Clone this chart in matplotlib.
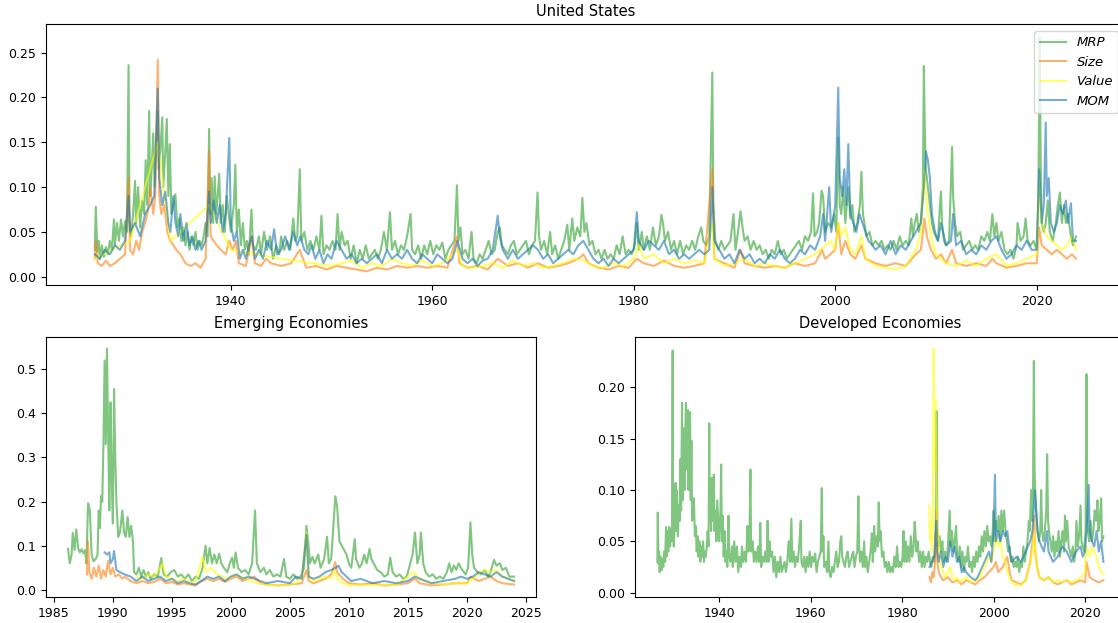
import matplotlib
matplotlib.use("Agg")
import matplotlib.pyplot as plt
import numpy as np

plt.rcParams["font.size"] = 9

# ---- data: (year, volatility) ----
us_mrp = [(1926.5, .030), (1926.6, .078), (1926.75, .028), (1926.9, .040), (1927.0, .020), (1927.2, .035),
          (1927.4, .022), (1927.6, .033), (1927.8, .025), (1928.0, .040), (1928.2, .030), (1928.4, .064),
          (1928.5, .035), (1928.7, .060), (1928.9, .040), (1929.1, .064), (1929.3, .045), (1929.5, .062),
          (1929.7, .050), (1929.85, .236), (1929.95, .060), (1930.1, .045), (1930.3, .070), (1930.5, .107),
          (1930.6, .060), (1930.8, .100), (1931.0, .055), (1931.2, .085), (1931.4, .070), (1931.55, .130),
          (1931.7, .080), (1931.9, .185), (1932.0, .090), (1932.15, .120), (1932.3, .160), (1932.45, .100),
          (1932.6, .150), (1932.75, .185), (1932.85, .120), (1933.0, .140), (1933.2, .178), (1933.3, .100),
          (1933.5, .140), (1933.65, .176), (1933.8, .090), (1933.95, .148), (1934.1, .070), (1934.3, .080),
          (1934.5, .092), (1934.7, .055), (1934.9, .065), (1935.1, .040), (1935.3, .055), (1935.5, .035),
          (1935.7, .050), (1935.9, .030), (1936.1, .045), (1936.3, .035), (1936.5, .050), (1936.7, .030),
          (1936.9, .040), (1937.1, .035), (1937.3, .045), (1937.5, .060), (1937.7, .045), (1937.85, .165),
          (1937.95, .070), (1938.1, .110), (1938.25, .060), (1938.4, .112), (1938.55, .070), (1938.7, .090),
          (1938.85, .115), (1939.0, .060), (1939.2, .080), (1939.4, .050), (1939.6, .090), (1939.8, .070),
          (1940.0, .050), (1940.3, .080), (1940.45, .125), (1940.6, .050), (1940.8, .075), (1941.0, .035),
          (1941.2, .060), (1941.4, .030), (1941.6, .040), (1941.8, .025), (1942.05, .075), (1942.2, .035),
          (1942.5, .030), (1942.8, .045), (1943.0, .025), (1943.3, .050), (1943.6, .030), (1943.9, .045),
          (1944.2, .020), (1944.5, .035), (1944.8, .025), (1945.0, .045), (1945.3, .030), (1945.6, .040),
          (1945.9, .030), (1946.2, .065), (1946.4, .040), (1946.6, .045), (1946.85, .120), (1947.0, .040),
          (1947.3, .050), (1947.6, .030), (1947.9, .040), (1948.2, .030), (1948.5, .045), (1948.8, .030),
          (1949.0, .068), (1949.2, .025), (1949.5, .035), (1949.8, .030), (1950.1, .040), (1950.4, .030),
          (1950.6, .070), (1950.8, .030), (1951.0, .050), (1951.3, .035), (1951.6, .040), (1951.9, .020),
          (1952.2, .035), (1952.5, .015), (1952.8, .030), (1953.1, .020), (1953.4, .035), (1953.7, .020),
          (1954.0, .025), (1954.3, .030), (1954.6, .020), (1954.9, .030), (1955.2, .050), (1955.5, .030),
          (1955.8, .072), (1956.0, .030), (1956.3, .040), (1956.6, .025), (1956.9, .035), (1957.2, .030),
          (1957.5, .045), (1957.85, .070), (1958.0, .030), (1958.3, .025), (1958.6, .035), (1958.9, .020),
          (1959.2, .035), (1959.5, .025), (1959.8, .040), (1960.1, .025), (1960.4, .035), (1960.7, .030),
          (1961.0, .038), (1961.3, .020), (1961.6, .030), (1961.9, .035), (1962.2, .040), (1962.45, .102),
          (1962.6, .040), (1962.8, .055), (1963.0, .025), (1963.3, .030), (1963.6, .020), (1963.9, .050),
          (1964.1, .020), (1964.4, .015), (1964.7, .025), (1965.0, .020), (1965.3, .030), (1965.6, .040),
          (1965.9, .025), (1966.2, .030), (1966.5, .050), (1966.7, .055), (1966.9, .035), (1967.2, .030),
          (1967.5, .025), (1967.8, .035), (1968.1, .040), (1968.4, .025), (1968.7, .030), (1969.0, .035),
          (1969.3, .040), (1969.6, .025), (1969.9, .035), (1970.2, .040), (1970.45, .094), (1970.6, .045),
          (1970.8, .030), (1971.1, .040), (1971.4, .025), (1971.7, .050), (1971.9, .025), (1972.2, .035),
          (1972.5, .020), (1972.8, .030), (1973.1, .040), (1973.4, .058), (1973.6, .030), (1973.9, .065),
          (1974.1, .040), (1974.4, .055), (1974.7, .045), (1974.9, .088), (1975.1, .050), (1975.3, .060),
          (1975.6, .035), (1975.9, .040), (1976.2, .025), (1976.5, .030), (1976.8, .020), (1977.1, .030),
          (1977.4, .020), (1977.7, .025), (1978.0, .020), (1978.3, .035), (1978.6, .025), (1978.9, .045),
          (1979.2, .025), (1979.5, .030), (1979.8, .025), (1980.1, .035), (1980.3, .060), (1980.5, .030),
          (1980.8, .050), (1981.0, .030), (1981.3, .045), (1981.6, .030), (1981.9, .055), (1982.2, .035),
          (1982.5, .045), (1982.75, .069), (1982.9, .060), (1983.1, .040), (1983.4, .050), (1983.7, .030),
          (1984.0, .040), (1984.3, .025), (1984.6, .040), (1984.9, .025), (1985.2, .035), (1985.5, .030),
          (1985.8, .040), (1986.1, .030), (1986.4, .045), (1986.7, .055), (1986.9, .040), (1987.2, .035),
          (1987.5, .045), (1987.8, .228), (1987.9, .080), (1988.1, .040), (1988.4, .030), (1988.7, .040),
          (1989.0, .030), (1989.3, .035), (1989.6, .040), (1989.9, .070), (1990.1, .030), (1990.35, .050),
          (1990.6, .073), (1990.8, .055), (1991.0, .040), (1991.3, .045), (1991.6, .030), (1991.9, .040),
          (1992.2, .030), (1992.5, .035), (1992.8, .025), (1993.1, .030), (1993.4, .020), (1993.7, .030),
          (1994.0, .025), (1994.3, .040), (1994.6, .025), (1994.9, .030), (1995.2, .020), (1995.5, .025),
          (1995.8, .030), (1996.1, .035), (1996.4, .040), (1996.7, .030), (1997.0, .045), (1997.3, .040),
          (1997.6, .050), (1997.8, .093), (1997.95, .045), (1998.2, .050), (1998.4, .060), (1998.65, .096),
          (1998.8, .090), (1999.0, .050), (1999.3, .060), (1999.6, .055), (1999.9, .070), (2000.1, .050),
          (2000.3, .155), (2000.45, .080), (2000.6, .070), (2000.8, .100), (2001.0, .060), (2001.3, .100),
          (2001.5, .065), (2001.7, .080), (2001.9, .050), (2002.2, .060), (2002.45, .080), (2002.6, .117),
          (2002.75, .070), (2002.9, .060), (2003.1, .045), (2003.4, .050), (2003.7, .035), (2004.0, .040),
          (2004.3, .035), (2004.6, .040), (2004.9, .030), (2005.2, .035), (2005.5, .030), (2005.8, .040),
          (2006.1, .030), (2006.4, .045), (2006.7, .035), (2007.0, .040), (2007.3, .035), (2007.55, .065),
          (2007.7, .045), (2007.9, .060), (2008.1, .070), (2008.3, .050), (2008.5, .060), (2008.7, .100),
          (2008.8, .235), (2008.9, .160), (2009.0, .120), (2009.2, .100), (2009.4, .080), (2009.6, .060),
          (2009.8, .050), (2010.0, .045), (2010.2, .040), (2010.4, .080), (2010.5, .095), (2010.6, .060),
          (2010.8, .040), (2011.0, .035), (2011.3, .040), (2011.6, .145), (2011.7, .090), (2011.9, .060),
          (2012.1, .045), (2012.4, .050), (2012.7, .030), (2013.0, .035), (2013.3, .040), (2013.6, .030),
          (2013.9, .035), (2014.2, .030), (2014.5, .045), (2014.8, .040), (2015.1, .050), (2015.35, .040),
          (2015.6, .070), (2015.8, .045), (2016.0, .060), (2016.2, .040), (2016.5, .050), (2016.8, .030),
          (2017.1, .025), (2017.4, .030), (2017.7, .020), (2018.0, .035), (2018.1, .060), (2018.4, .040),
          (2018.7, .045), (2018.9, .065), (2019.1, .040), (2019.4, .035), (2019.7, .040), (2020.0, .030),
          (2020.15, .080), (2020.3, .268), (2020.4, .125), (2020.5, .060), (2020.7, .050), (2020.9, .060),
          (2021.1, .085), (2021.3, .050), (2021.6, .040), (2021.9, .060), (2022.1, .080), (2022.3, .094),
          (2022.5, .060), (2022.7, .080), (2022.9, .060), (2023.1, .070), (2023.4, .045), (2023.6, .035),
          (2023.9, .045)]

us_size = [(1926.5, .020), (1926.6, .040), (1926.8, .015), (1927.2, .012), (1927.6, .018), (1928.0, .012),
           (1928.5, .015), (1929.0, .020), (1929.5, .025), (1929.85, .110), (1930.0, .030), (1930.3, .025),
           (1930.6, .040), (1930.9, .030), (1931.2, .050), (1931.5, .060), (1931.8, .075), (1932.0, .100),
           (1932.3, .070), (1932.5, .090), (1932.75, .242), (1932.9, .090), (1933.1, .070), (1933.4, .080),
           (1933.7, .050), (1934.0, .040), (1934.3, .035), (1934.6, .030), (1935.0, .025), (1935.5, .015),
           (1936.0, .012), (1936.5, .015), (1937.0, .010), (1937.5, .020), (1937.85, .140), (1938.0, .045),
           (1938.3, .040), (1938.6, .035), (1939.0, .030), (1939.5, .025), (1939.85, .040), (1940.2, .030),
           (1940.5, .040), (1940.8, .015), (1941.5, .012), (1942.05, .045), (1942.4, .015), (1943.0, .012),
           (1943.5, .020), (1944.0, .015), (1945.0, .012), (1946.0, .015), (1946.85, .030), (1947.5, .010),
           (1948.5, .012), (1949.5, .008), (1950.5, .012), (1951.5, .010), (1952.5, .008), (1953.5, .006),
           (1954.5, .010), (1955.5, .008), (1956.5, .012), (1957.5, .010), (1958.5, .012), (1959.5, .010),
           (1960.5, .012), (1961.5, .010), (1962.45, .045), (1962.7, .015), (1963.5, .010), (1964.5, .012),
           (1965.5, .008), (1966.5, .020), (1967.5, .012), (1968.5, .015), (1969.5, .010), (1970.5, .015),
           (1971.5, .010), (1972.5, .012), (1973.5, .015), (1974.5, .020), (1975.0, .025), (1975.5, .015),
           (1976.5, .010), (1977.5, .008), (1978.5, .012), (1979.5, .010), (1980.3, .020), (1981.0, .015),
           (1982.0, .012), (1983.0, .018), (1984.0, .012), (1985.0, .010), (1986.0, .012), (1987.0, .015),
           (1987.8, .120), (1988.0, .020), (1989.0, .015), (1990.0, .010), (1990.6, .030), (1991.0, .015),
           (1992.0, .012), (1993.0, .010), (1994.0, .012), (1995.0, .010), (1996.0, .015), (1997.0, .012),
           (1998.0, .015), (1998.7, .030), (1999.0, .020), (1999.5, .025), (2000.0, .030), (2000.3, .060),
           (2000.6, .025), (2001.0, .040), (2001.5, .025), (2002.0, .020), (2002.6, .035), (2003.0, .020),
           (2004.0, .015), (2005.0, .012), (2006.0, .015), (2007.0, .012), (2007.6, .020), (2008.0, .025),
           (2008.5, .030), (2008.85, .065), (2009.1, .045), (2009.5, .030), (2010.0, .020), (2010.5, .025),
           (2011.0, .015), (2011.6, .030), (2012.0, .015), (2013.0, .012), (2014.0, .015), (2015.0, .012),
           (2015.6, .020), (2016.0, .015), (2017.0, .010), (2018.0, .012), (2019.0, .015), (2020.0, .015),
           (2020.25, .055), (2020.5, .035), (2021.0, .030), (2021.5, .025), (2022.0, .030), (2022.5, .025),
           (2023.0, .020), (2023.5, .025), (2023.9, .020)]

us_value = [(1926.5, .020), (1930.0, .040), (1932.75, .150), (1934.0, .040), (1937.85, .080), (1940.0, .030),
            (1945.0, .020), (1950.0, .012), (1952.0, .018), (1953.0, .010), (1954.0, .015), (1955.0, .012),
            (1956.0, .020), (1957.0, .015), (1958.0, .012), (1959.0, .018), (1960.0, .012), (1961.0, .015),
            (1962.5, .030), (1963.0, .012), (1964.0, .010), (1965.0, .012), (1966.0, .015), (1967.0, .010),
            (1968.0, .018), (1969.0, .012), (1970.0, .015), (1971.0, .010), (1972.0, .012), (1973.0, .015),
            (1974.0, .020), (1975.0, .018), (1976.0, .012), (1977.0, .010), (1978.0, .015), (1979.0, .012),
            (1980.0, .020), (1980.5, .035), (1981.0, .020), (1982.0, .025), (1983.0, .015), (1984.0, .020),
            (1985.0, .015), (1986.0, .018), (1987.0, .015), (1987.8, .060), (1988.0, .020), (1989.0, .012),
            (1990.0, .015), (1991.0, .020), (1992.0, .012), (1993.0, .015), (1994.0, .012), (1995.0, .010),
            (1996.0, .015), (1997.0, .020), (1998.0, .025), (1999.0, .035), (1999.5, .040), (2000.0, .030),
            (2000.3, .060), (2000.6, .045), (2001.0, .055), (2001.5, .030), (2002.0, .025), (2002.6, .045),
            (2003.0, .020), (2004.0, .012), (2005.0, .010), (2006.0, .008), (2007.0, .012), (2008.0, .030),
            (2008.5, .050), (2008.85, .120), (2009.0, .090), (2009.3, .060), (2009.6, .040), (2010.0, .025),
            (2011.0, .015), (2012.0, .012), (2013.0, .018), (2014.0, .012), (2015.0, .020), (2016.0, .025),
            (2017.0, .012), (2018.0, .015), (2019.0, .020), (2020.0, .025), (2020.25, .100), (2020.5, .060),
            (2021.0, .045), (2021.5, .040), (2022.0, .035), (2022.5, .030), (2023.0, .035), (2023.5, .045),
            (2023.9, .030)]

us_mom = [(1926.5, .025), (1927.0, .020), (1927.5, .030), (1928.0, .025), (1928.5, .035), (1929.0, .030),
          (1929.5, .040), (1929.85, .090), (1930.0, .050), (1930.5, .060), (1931.0, .045), (1931.5, .070),
          (1932.0, .080), (1932.4, .090), (1932.75, .210), (1932.9, .110), (1933.2, .080), (1933.5, .095),
          (1933.8, .060), (1934.0, .050), (1934.3, .090), (1934.5, .060), (1934.8, .045), (1935.0, .070),
          (1935.3, .040), (1935.6, .060), (1935.9, .035), (1936.2, .045), (1936.5, .030), (1936.8, .040),
          (1937.1, .030), (1937.5, .040), (1937.85, .095), (1938.0, .060), (1938.3, .085), (1938.6, .060),
          (1938.9, .080), (1939.2, .050), (1939.5, .070), (1939.85, .155), (1940.0, .060), (1940.3, .040),
          (1940.6, .050), (1940.9, .020), (1941.2, .030), (1941.5, .020), (1941.8, .035), (1942.1, .045),
          (1942.4, .020), (1942.8, .030), (1943.2, .020), (1943.6, .040), (1944.0, .030), (1944.3, .053),
          (1944.6, .025), (1945.0, .030), (1945.4, .045), (1945.8, .030), (1946.2, .050), (1946.6, .035),
          (1946.9, .045), (1947.3, .030), (1947.7, .025), (1948.0, .035), (1948.4, .020), (1948.8, .030),
          (1949.2, .015), (1949.6, .025), (1950.0, .020), (1950.5, .040), (1951.0, .030), (1951.5, .020),
          (1952.0, .025), (1952.5, .015), (1953.0, .020), (1953.5, .015), (1954.0, .020), (1954.5, .025),
          (1955.0, .015), (1955.5, .030), (1956.0, .020), (1956.5, .025), (1957.0, .020), (1957.5, .030),
          (1958.0, .020), (1958.5, .015), (1959.0, .025), (1959.5, .020), (1960.0, .015), (1960.5, .025),
          (1961.0, .020), (1961.5, .015), (1962.0, .020), (1962.5, .040), (1963.0, .020), (1963.5, .015),
          (1964.0, .020), (1964.5, .012), (1965.0, .018), (1965.5, .020), (1966.0, .030), (1966.5, .068),
          (1966.7, .045), (1967.0, .030), (1967.5, .020), (1968.0, .030), (1968.5, .020), (1969.0, .025),
          (1969.5, .030), (1970.0, .035), (1970.5, .030), (1971.0, .020), (1971.5, .025), (1972.0, .015),
          (1972.5, .020), (1973.0, .025), (1973.5, .030), (1974.0, .025), (1974.5, .035), (1975.0, .040),
          (1975.5, .030), (1976.0, .020), (1976.5, .015), (1977.0, .020), (1977.5, .012), (1978.0, .020),
          (1978.5, .015), (1979.0, .020), (1979.5, .025), (1980.0, .030), (1980.3, .072), (1980.5, .040),
          (1981.0, .030), (1981.5, .040), (1982.0, .035), (1982.5, .030), (1983.0, .040), (1983.5, .025),
          (1984.0, .030), (1984.5, .020), (1985.0, .025), (1985.5, .020), (1986.0, .025), (1986.5, .030),
          (1987.0, .025), (1987.5, .030), (1987.8, .100), (1988.0, .040), (1988.5, .030), (1989.0, .020),
          (1989.5, .025), (1990.0, .015), (1990.5, .030), (1991.0, .020), (1991.5, .025), (1992.0, .015),
          (1992.5, .020), (1993.0, .015), (1993.5, .025), (1994.0, .020), (1994.5, .030), (1995.0, .020),
          (1995.5, .015), (1996.0, .020), (1996.5, .030), (1997.0, .025), (1997.5, .035), (1998.0, .030),
          (1998.5, .045), (1998.8, .070), (1999.0, .040), (1999.4, .100), (1999.6, .050), (2000.0, .080),
          (2000.3, .211), (2000.45, .110), (2000.7, .090), (2000.9, .120), (2001.1, .080), (2001.3, .148),
          (2001.5, .070), (2001.8, .060), (2002.1, .050), (2002.4, .070), (2002.7, .060), (2003.0, .050),
          (2003.3, .040), (2003.7, .035), (2004.0, .030), (2004.5, .035), (2005.0, .025), (2005.5, .040),
          (2006.0, .025), (2006.5, .035), (2007.0, .030), (2007.5, .040), (2008.0, .050), (2008.5, .060),
          (2008.8, .100), (2009.0, .140), (2009.2, .130), (2009.4, .110), (2009.6, .070), (2009.9, .050),
          (2010.2, .040), (2010.5, .060), (2011.0, .035), (2011.5, .040), (2011.7, .070), (2012.0, .035),
          (2012.5, .040), (2013.0, .025), (2013.5, .030), (2014.0, .025), (2014.5, .035), (2015.0, .030),
          (2015.5, .040), (2016.0, .045), (2016.5, .030), (2017.0, .020), (2017.5, .025), (2018.0, .035),
          (2018.5, .030), (2019.0, .040), (2019.5, .030), (2020.0, .030), (2020.25, .120), (2020.5, .060),
          (2020.7, .080), (2020.9, .172), (2021.0, .090), (2021.2, .110), (2021.4, .060), (2021.7, .050),
          (2022.0, .060), (2022.3, .080), (2022.6, .070), (2022.9, .085), (2023.1, .060), (2023.4, .082),
          (2023.6, .040), (2023.9, .040)]

em_mrp = [(1986.2, .093), (1986.35, .060), (1986.5, .080), (1986.6, .129), (1986.75, .090), (1986.9, .137),
          (1987.05, .095), (1987.2, .085), (1987.35, .092), (1987.5, .083), (1987.65, .090), (1987.75, .060),
          (1987.9, .196), (1988.05, .180), (1988.2, .080), (1988.35, .065), (1988.55, .070), (1988.7, .080),
          (1988.8, .180), (1988.9, .140), (1989.0, .213), (1989.1, .200), (1989.2, .330), (1989.3, .520),
          (1989.4, .330), (1989.5, .547), (1989.6, .350), (1989.7, .180), (1989.8, .425), (1989.9, .250),
          (1990.0, .150), (1990.1, .455), (1990.2, .300), (1990.3, .200), (1990.45, .120), (1990.6, .130),
          (1990.8, .180), (1990.95, .130), (1991.1, .120), (1991.25, .165), (1991.4, .120), (1991.55, .145),
          (1991.7, .110), (1991.8, .040), (1992.0, .035), (1992.2, .050), (1992.4, .030), (1992.6, .045),
          (1992.8, .030), (1993.0, .040), (1993.2, .025), (1993.5, .035), (1993.8, .030), (1994.1, .072),
          (1994.3, .035), (1994.6, .030), (1994.9, .040), (1995.2, .045), (1995.5, .030), (1995.8, .035),
          (1996.1, .025), (1996.4, .035), (1996.7, .020), (1997.0, .030), (1997.3, .025), (1997.6, .050),
          (1997.85, .100), (1998.0, .060), (1998.2, .095), (1998.4, .060), (1998.6, .080), (1998.8, .060),
          (1999.0, .082), (1999.2, .060), (1999.4, .050), (1999.7, .040), (1999.9, .060), (2000.1, .073),
          (2000.25, .050), (2000.4, .085), (2000.6, .050), (2000.9, .040), (2001.2, .045), (2001.5, .035),
          (2001.8, .060), (2002.05, .180), (2002.2, .060), (2002.5, .040), (2002.8, .050), (2003.0, .035),
          (2003.3, .045), (2003.6, .030), (2003.9, .035), (2004.2, .030), (2004.5, .070), (2004.7, .030),
          (2005.0, .025), (2005.3, .035), (2005.6, .025), (2005.9, .030), (2006.2, .050), (2006.4, .145),
          (2006.55, .110), (2006.7, .060), (2006.9, .075), (2007.1, .060), (2007.4, .080), (2007.6, .050),
          (2007.9, .070), (2008.15, .120), (2008.3, .060), (2008.5, .070), (2008.7, .150), (2008.85, .212),
          (2009.0, .190), (2009.2, .110), (2009.4, .100), (2009.6, .090), (2009.8, .080), (2010.0, .060),
          (2010.2, .050), (2010.5, .115), (2010.6, .070), (2010.9, .050), (2011.1, .060), (2011.3, .080),
          (2011.5, .060), (2011.75, .093), (2011.9, .070), (2012.1, .060), (2012.4, .045), (2012.7, .040),
          (2013.0, .030), (2013.3, .035), (2013.5, .073), (2013.7, .040), (2014.0, .030), (2014.3, .035),
          (2014.6, .025), (2014.9, .030), (2015.2, .060), (2015.4, .080), (2015.6, .130), (2015.8, .060),
          (2016.0, .080), (2016.1, .130), (2016.3, .060), (2016.5, .040), (2016.8, .030), (2017.1, .035),
          (2017.4, .025), (2017.7, .030), (2018.0, .025), (2018.3, .040), (2018.5, .060), (2018.7, .040),
          (2018.9, .055), (2019.1, .045), (2019.3, .060), (2019.6, .045), (2019.9, .035), (2020.1, .050),
          (2020.3, .153), (2020.45, .080), (2020.6, .050), (2020.9, .040), (2021.2, .035), (2021.5, .045),
          (2021.8, .030), (2022.0, .040), (2022.3, .068), (2022.5, .055), (2022.8, .060), (2023.0, .045),
          (2023.3, .050), (2023.6, .030), (2024.0, .030)]

em_size = [(1987.8, .035), (1987.9, .110), (1988.0, .040), (1988.2, .025), (1988.4, .050), (1988.6, .030),
           (1988.8, .055), (1989.0, .025), (1989.2, .045), (1989.4, .030), (1989.6, .066), (1989.8, .035),
           (1990.0, .050), (1990.2, .030), (1990.5, .035), (1990.8, .025), (1991.0, .030), (1991.5, .020),
           (1992.0, .015), (1992.5, .020), (1993.0, .015), (1993.5, .018), (1994.0, .025), (1994.5, .015),
           (1995.0, .018), (1995.5, .012), (1996.0, .015), (1996.5, .012), (1997.0, .010), (1997.5, .020),
           (1998.0, .025), (1998.5, .020), (1999.0, .025), (1999.5, .018), (2000.0, .025), (2000.5, .030),
           (2001.0, .020), (2001.5, .025), (2002.0, .030), (2002.5, .015), (2003.0, .012), (2004.0, .010),
           (2005.0, .012), (2006.0, .015), (2006.4, .045), (2006.6, .020), (2007.0, .015), (2007.5, .020),
           (2008.0, .025), (2008.5, .035), (2008.85, .063), (2009.0, .040), (2009.5, .025), (2010.0, .015),
           (2011.0, .012), (2012.0, .015), (2013.0, .010), (2014.0, .012), (2015.0, .015), (2015.6, .025),
           (2016.0, .015), (2017.0, .010), (2018.0, .012), (2019.0, .015), (2020.0, .015), (2020.3, .030),
           (2021.0, .020), (2021.5, .025), (2022.0, .030), (2022.5, .020), (2023.0, .015), (2024.0, .012)]

em_value = [(1992.0, .030), (1992.5, .025), (1993.0, .035), (1993.5, .030), (1994.0, .050), (1994.2, .060),
            (1994.5, .030), (1995.0, .025), (1995.5, .020), (1996.0, .025), (1996.5, .015), (1997.0, .020),
            (1997.6, .075), (1997.9, .040), (1998.3, .050), (1998.8, .035), (1999.3, .030), (1999.8, .025),
            (2000.3, .035), (2000.8, .030), (2001.3, .025), (2001.8, .020), (2002.3, .015), (2003.0, .012),
            (2004.0, .010), (2005.0, .012), (2005.5, .015), (2006.0, .030), (2006.4, .130), (2006.6, .030),
            (2007.0, .020), (2007.5, .025), (2008.0, .030), (2008.5, .025), (2008.8, .045), (2009.0, .025),
            (2009.5, .015), (2010.0, .010), (2011.0, .012), (2012.0, .010), (2013.0, .012), (2014.0, .010),
            (2015.0, .030), (2015.5, .040), (2016.0, .025), (2017.0, .015), (2018.0, .012), (2019.0, .015),
            (2020.0, .015), (2020.5, .025), (2021.0, .035), (2021.5, .045), (2022.0, .040), (2022.5, .045),
            (2023.0, .030), (2024.0, .020)]

em_mom = [(1989.3, .085), (1989.5, .080), (1989.7, .085), (1989.8, .060), (1990.0, .070), (1990.1, .088),
          (1990.3, .045), (1990.6, .040), (1991.0, .035), (1991.5, .030), (1992.0, .020), (1992.5, .030),
          (1993.0, .020), (1993.5, .025), (1994.0, .030), (1994.5, .020), (1995.0, .025), (1995.5, .015),
          (1996.0, .020), (1996.5, .015), (1997.0, .012), (1997.5, .020), (1998.0, .030), (1998.5, .025),
          (1999.0, .030), (1999.5, .020), (2000.0, .030), (2000.5, .035), (2001.0, .025), (2001.5, .030),
          (2002.0, .025), (2002.5, .020), (2003.0, .015), (2004.0, .020), (2005.0, .015), (2005.5, .030),
          (2006.0, .025), (2006.4, .125), (2006.6, .030), (2007.0, .025), (2007.5, .030), (2008.0, .040),
          (2008.5, .045), (2008.9, .050), (2009.1, .055), (2009.4, .040), (2009.8, .030), (2010.2, .020),
          (2011.0, .025), (2012.0, .015), (2013.0, .020), (2014.0, .015), (2015.0, .020), (2015.6, .030),
          (2016.0, .025), (2017.0, .015), (2018.0, .020), (2019.0, .025), (2019.5, .030), (2020.0, .025),
          (2020.5, .030), (2021.0, .040), (2021.5, .035), (2022.0, .030), (2022.5, .040), (2023.0, .030),
          (2023.5, .025), (2024.0, .020)]

# developed economies: market premium before 1986 follows the US series
de_mrp_late = [(1986.1, .030), (1986.4, .025), (1986.7, .035), (1987.0, .030), (1987.3, .040), (1987.55, .177),
               (1987.7, .060), (1987.9, .045), (1988.2, .055), (1988.5, .040), (1988.8, .050), (1989.1, .030),
               (1989.4, .040), (1989.7, .030), (1990.0, .045), (1990.4, .080), (1990.6, .045), (1990.9, .060),
               (1991.2, .040), (1991.5, .050), (1991.8, .065), (1992.0, .040), (1992.3, .030), (1992.6, .045),
               (1992.9, .025), (1993.2, .040), (1993.5, .020), (1993.8, .035), (1994.1, .030), (1994.4, .045),
               (1994.7, .025), (1995.0, .030), (1995.3, .020), (1995.6, .035), (1995.9, .025), (1996.2, .040),
               (1996.5, .030), (1996.8, .045), (1997.1, .035), (1997.4, .055), (1997.7, .040), (1998.0, .060),
               (1998.3, .045), (1998.6, .065), (1998.9, .050), (1999.2, .055), (1999.5, .045), (1999.8, .060),
               (2000.0, .080), (2000.2, .050), (2000.5, .070), (2000.8, .060), (2001.1, .075), (2001.4, .050),
               (2001.7, .080), (2002.0, .060), (2002.3, .080), (2002.6, .060), (2002.9, .050), (2003.2, .040),
               (2003.5, .045), (2003.8, .030), (2004.1, .035), (2004.4, .025), (2004.7, .030), (2005.0, .025),
               (2005.3, .035), (2005.6, .020), (2005.9, .030), (2006.2, .025), (2006.5, .045), (2006.8, .030),
               (2007.1, .040), (2007.4, .050), (2007.7, .070), (2007.9, .060), (2008.2, .100), (2008.4, .070),
               (2008.6, .090), (2008.8, .226), (2008.95, .120), (2009.1, .100), (2009.3, .080), (2009.6, .060),
               (2009.9, .050), (2010.2, .060), (2010.4, .100), (2010.6, .060), (2010.9, .050), (2011.2, .060),
               (2011.5, .080), (2011.7, .135), (2011.9, .070), (2012.1, .060), (2012.4, .050), (2012.7, .040),
               (2013.0, .055), (2013.3, .035), (2013.6, .050), (2013.9, .040), (2014.2, .060), (2014.5, .035),
               (2014.8, .050), (2015.1, .060), (2015.4, .040), (2015.6, .075), (2015.8, .050), (2016.1, .070),
               (2016.4, .045), (2016.7, .040), (2017.0, .035), (2017.3, .045), (2017.6, .030), (2017.9, .040),
               (2018.1, .070), (2018.4, .045), (2018.7, .055), (2019.0, .085), (2019.2, .050), (2019.5, .045),
               (2019.8, .040), (2020.1, .060), (2020.3, .213), (2020.45, .100), (2020.6, .060), (2020.9, .050),
               (2021.2, .070), (2021.5, .050), (2021.8, .060), (2022.1, .080), (2022.4, .070), (2022.7, .090),
               (2022.9, .060), (2023.2, .070), (2023.5, .092), (2023.7, .050), (2024.0, .055)]

de_size = [(1986.0, .015), (1986.3, .010), (1986.6, .020), (1986.9, .015), (1987.2, .030), (1987.5, .080),
           (1987.7, .030), (1988.0, .020), (1988.5, .015), (1989.0, .012), (1990.0, .015), (1991.0, .010),
           (1992.0, .012), (1993.0, .008), (1994.0, .012), (1995.0, .010), (1996.0, .008), (1997.0, .012),
           (1998.0, .015), (1999.0, .020), (2000.0, .025), (2000.5, .030), (2001.0, .020), (2002.0, .025),
           (2003.0, .035), (2003.5, .020), (2004.0, .012), (2005.0, .010), (2006.0, .008), (2007.0, .012),
           (2008.0, .030), (2008.5, .050), (2008.9, .075), (2009.1, .040), (2009.5, .025), (2010.0, .015),
           (2011.0, .012), (2012.0, .015), (2013.0, .010), (2014.0, .008), (2015.0, .010), (2016.0, .012),
           (2017.0, .008), (2018.0, .010), (2019.0, .012), (2020.0, .010), (2020.3, .030), (2021.0, .015),
           (2022.0, .012), (2023.0, .010), (2024.0, .012)]

de_value = [(1985.9, .085), (1986.1, .050), (1986.3, .070), (1986.5, .040), (1986.7, .060), (1986.9, .238),
            (1987.05, .120), (1987.2, .190), (1987.35, .185), (1987.5, .100), (1987.7, .050), (1987.9, .060),
            (1988.2, .030), (1988.6, .025), (1989.0, .020), (1989.5, .015), (1990.0, .020), (1990.5, .025),
            (1991.0, .015), (1991.5, .012), (1992.0, .015), (1992.5, .010), (1993.0, .012), (1994.0, .015),
            (1995.0, .010), (1996.0, .012), (1997.0, .015), (1998.0, .025), (1998.5, .030), (1999.0, .035),
            (1999.5, .030), (2000.0, .040), (2000.5, .055), (2001.0, .045), (2001.5, .050), (2002.0, .035),
            (2002.5, .030), (2003.0, .020), (2003.5, .015), (2004.0, .010), (2004.5, .008), (2005.0, .007),
            (2005.5, .008), (2006.0, .007), (2006.5, .010), (2007.0, .012), (2007.5, .020), (2008.0, .030),
            (2008.5, .040), (2008.9, .060), (2009.1, .040), (2009.5, .025), (2010.0, .015), (2011.0, .012),
            (2012.0, .015), (2013.0, .010), (2014.0, .012), (2015.0, .010), (2016.0, .012), (2017.0, .010),
            (2018.0, .012), (2019.0, .015), (2020.0, .020), (2020.3, .045), (2020.6, .040), (2021.0, .035),
            (2021.5, .045), (2022.0, .040), (2022.5, .035), (2023.0, .025), (2023.5, .020), (2024.0, .018)]

de_mom = [(1986.0, .025), (1986.5, .030), (1987.0, .035), (1987.5, .070), (1987.7, .040), (1988.0, .030),
          (1988.5, .040), (1989.0, .025), (1989.5, .035), (1990.0, .030), (1990.5, .050), (1991.0, .035),
          (1991.5, .045), (1992.0, .030), (1992.5, .035), (1993.0, .020), (1993.5, .025), (1994.0, .020),
          (1995.0, .015), (1996.0, .012), (1996.5, .015), (1997.0, .020), (1998.0, .030), (1999.0, .040),
          (1999.5, .030), (2000.0, .060), (2000.3, .115), (2000.5, .050), (2001.0, .060), (2001.5, .050),
          (2002.0, .060), (2002.5, .055), (2003.0, .060), (2003.5, .040), (2004.0, .030), (2005.0, .035),
          (2006.0, .030), (2007.0, .040), (2008.0, .050), (2008.5, .060), (2009.0, .100), (2009.3, .080),
          (2009.6, .060), (2010.0, .050), (2010.5, .045), (2011.0, .040), (2011.7, .060), (2012.0, .040),
          (2013.0, .030), (2014.0, .035), (2015.0, .045), (2016.0, .040), (2017.0, .030), (2018.0, .040),
          (2019.0, .045), (2019.5, .035), (2020.0, .040), (2020.3, .060), (2020.8, .105), (2021.0, .060),
          (2021.5, .050), (2022.0, .045), (2022.5, .060), (2023.0, .040), (2023.5, .050), (2024.0, .030)]

labels = ["MRP", "Size", "Value", "MOM"]
colors = ["tab:green", "tab:orange", "yellow", "tab:blue"]

de_mrp = [p for p in us_mrp if p[0] < 1986] + de_mrp_late

panels = [
    ("United States", [us_mrp, us_size, us_value, us_mom]),
    ("Emerging Economies", [em_mrp, em_size, em_value, em_mom]),
    ("Developed Economies", [de_mrp, de_size, de_value, de_mom]),
]

fig = plt.figure(figsize=(11.18, 6.23), dpi=100)
ax_us = fig.add_axes([0.0409, 0.5425, 0.9654, 0.4185])
ax_em = fig.add_axes([0.0409, 0.0413, 0.4389, 0.4183])
ax_de = fig.add_axes([0.5680, 0.0413, 0.4389, 0.4183])

for ax, (title, series) in zip([ax_us, ax_em, ax_de], panels):
    for s, lab, c in zip(series, labels, colors):
        t, v = np.array(s).T
        ax.plot(t, v, color=c, alpha=0.6, lw=1.5, label=lab)
    ax.set_title(title, fontsize=10.5)

ax_us.set_ylim(-0.0093, 0.2817)
ax_us.legend(loc="upper right", prop={"style": "italic", "size": 9.5})

fig.savefig("out.png", dpi=100)
